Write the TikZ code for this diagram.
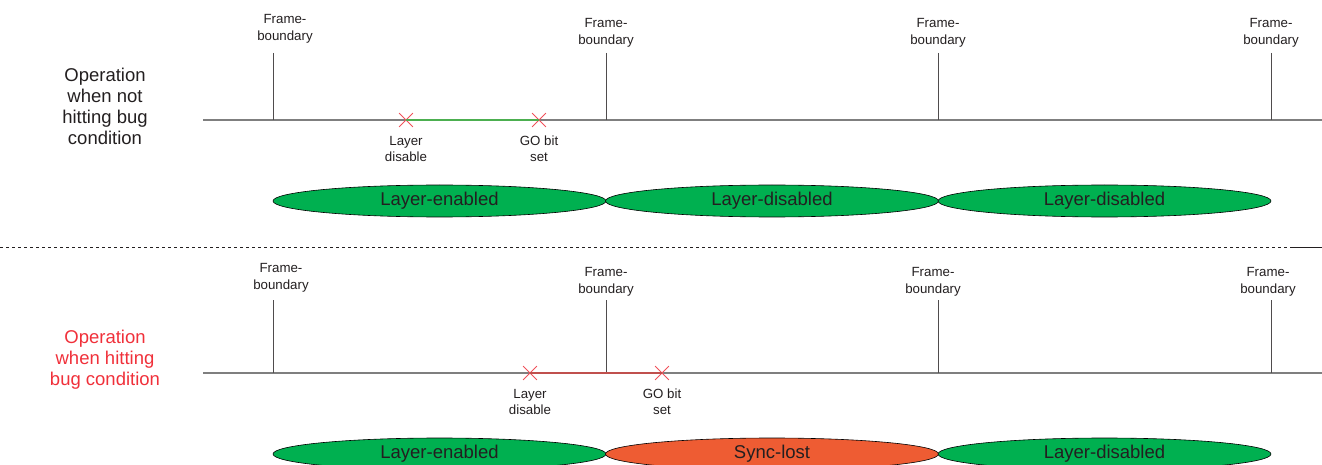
\documentclass[tikz,border=0pt]{standalone}
\usepackage{fontspec}
\setmainfont{Liberation Sans}
\usetikzlibrary{shapes.geometric,shapes.misc}
\definecolor{okgreen}{HTML}{00B050}
\definecolor{syncred}{HTML}{EE5C33}
\definecolor{linegray}{HTML}{7F7F7F}
\definecolor{crossred}{HTML}{F0505A}
\definecolor{goodline}{HTML}{4CAF50}
\definecolor{badline}{HTML}{C0504D}
\definecolor{textdark}{HTML}{231F20}
\definecolor{labelred}{HTML}{F0303A}
\tikzset{
  x=1pt,y=-1pt,
  fb/.style={font=\fontsize{13.3}{17}\selectfont, align=center, text=textdark, inner sep=0pt},
  tick/.style={draw=textdark!80, line width=1pt},
  axis/.style={draw=linegray, line width=1.3pt},
  xmark/.style={draw=crossred, cross out, minimum size=13pt, inner sep=0pt, line width=0.8pt},
  evt/.style={font=\fontsize{13.3}{16}\selectfont, align=center, text=textdark, inner sep=0pt},
  phase/.style={ellipse, draw=black, line width=0.6pt, minimum width=333pt, minimum height=32pt, inner sep=0pt, font=\fontsize{18.5}{20}\selectfont, text=textdark},
  side/.style={font=\fontsize{18.5}{21}\selectfont, align=center, inner sep=0pt}
}
\begin{document}
\begin{tikzpicture}
\useasboundingbox (0,0) rectangle (1322,465);
% ---------- top row ----------
\node[side, text=textdark] (opA) at (105,106) {Operation\\when not\\hitting bug\\condition};
\coordinate (axA0) at (203,120);
\coordinate (axA1) at (1322,120);
\draw[axis] (axA0) -- (axA1);
\foreach \i/\x/\lx/\ly in {1/273/285/29, 2/606/606/33, 3/938/938/33, 4/1271/1271/33}{
  \coordinate (tA\i) at (\x,120);
  \coordinate (tA\i t) at (\x,53);
  \draw[tick] (tA\i t) -- (tA\i);
  \node[fb] (fbA\i) at (\lx,\ly) {Frame-\\boundary};
}
\node[xmark] (xA1) at (406,120) {};
\node[xmark] (xA2) at (539,120) {};
\draw[goodline, line width=1.3pt] (xA1.center) -- (xA2.center);
\node[evt] (eA1) at (406,149) {Layer\\disable};
\node[evt] (eA2) at (539,149) {GO bit\\set};
\node[phase, fill=okgreen] (pA1) at (439.5,201) {Layer-enabled};
\node[phase, fill=okgreen] (pA2) at (772,201) {Layer-disabled};
\node[phase, fill=okgreen] (pA3) at (1104.5,201) {Layer-disabled};
% ---------- separator ----------
\coordinate (sep0) at (0,247);
\coordinate (sep1) at (1290,247);
\coordinate (sep2) at (1322,247);
\draw[textdark, dashed, line width=0.6pt] (sep0) -- (sep1);
\draw[textdark, line width=0.6pt] (sep1) -- (sep2);
% ---------- bottom row ----------
\node[side, text=labelred] (opB) at (105,360) {Operation\\when hitting\\bug condition};
\coordinate (axB0) at (203,373);
\coordinate (axB1) at (1322,373);
\draw[axis] (axB0) -- (axB1);
\foreach \i/\x/\lx/\ly in {1/273/281/278, 2/606/606/282, 3/938/933/282, 4/1271/1268/282}{
  \coordinate (tB\i) at (\x,373);
  \coordinate (tB\i t) at (\x,300);
  \draw[tick] (tB\i t) -- (tB\i);
  \node[fb] (fbB\i) at (\lx,\ly) {Frame-\\boundary};
}
\node[xmark] (xB1) at (530,373) {};
\node[xmark] (xB2) at (662,373) {};
\draw[badline, line width=1.3pt] (xB1.center) -- (xB2.center);
\node[evt] (eB1) at (530,402) {Layer\\disable};
\node[evt] (eB2) at (662,402) {GO bit\\set};
\node[phase, fill=okgreen] (pB1) at (439.5,454) {Layer-enabled};
\node[phase, fill=syncred] (pB2) at (772,454) {Sync-lost};
\node[phase, fill=okgreen] (pB3) at (1104.5,454) {Layer-disabled};
\end{tikzpicture}
\end{document}
